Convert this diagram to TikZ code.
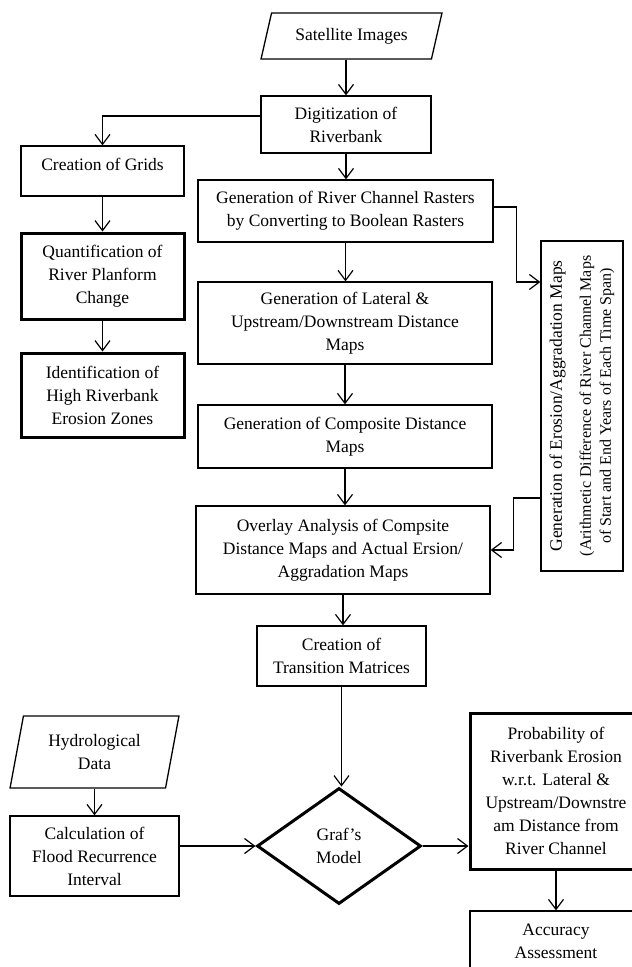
\documentclass[tikz,border=0pt]{standalone}
\usepackage{graphicx}
\usepackage{fontspec}
\setmainfont{Liberation Serif}
\usetikzlibrary{shapes.geometric,arrows.meta}

\begin{document}
\begin{tikzpicture}[x=1pt,y=-1pt,
  box/.style={draw,line width=1.3pt,align=center,inner sep=2pt,font=\fontsize{17.5}{23}\selectfont},
  boldbox/.style={box,line width=3pt},
  inbox/.style={box,trapezium,trapezium stretches=true},
  arr/.style={-{Straight Barb[length=10pt,width=15pt]},line width=1.2pt}]
\useasboundingbox (0,0) rectangle (632,967);

% main column
\node[inbox,trapezium left angle=69,trapezium right angle=111,minimum width=181pt,minimum height=46pt] (sat) at (351.5,36) {Satellite Images};
\node[box,minimum width=170pt,minimum height=57pt] (dig) at (346,124.5) {Digitization of\\Riverbank};
\node[box,minimum width=295pt,minimum height=62pt] (rast) at (345.5,211) {Generation of River Channel Rasters\\by Converting to Boolean Rasters};
\node[box,minimum width=294pt,minimum height=82pt] (lat) at (345,323) {Generation of Lateral \&\\Upstream/Downstream Distance\\Maps};
\node[box,minimum width=294pt,minimum height=63pt] (comp) at (345,436.5) {Generation of Composite Distance\\Maps};
\node[box,minimum width=294pt,minimum height=88pt] (over) at (343,550) {Overlay Analysis of Compsite\\Distance Maps and Actual Ersion/\\Aggradation Maps};
\node[box,minimum width=169pt,minimum height=60pt] (trans) at (341.5,656) {Creation of\\Transition Matrices};

% left column
\node[box,minimum width=163pt,minimum height=50pt,text depth=14pt] (grid) at (102.5,171) {Creation of Grids};
\node[boldbox,minimum width=163pt,minimum height=86pt] (quant) at (102.5,276) {Quantification of\\River Planform\\Change};
\node[boldbox,minimum width=163pt,minimum height=84pt] (ident) at (102.5,395) {Identification of\\High Riverbank\\Erosion Zones};

% right side
\node[box,minimum width=82pt,minimum height=328pt,inner sep=0pt] (eros) at (582,406) {\rotatebox{90}{\parbox{330pt}{\centering
  \fontsize{17.5}{20}\selectfont Generation of Erosion/Aggradation Maps\\[9pt]
  \fontsize{16}{20}\selectfont (Arithmetic Difference of River Channel Maps\\
  of Start and End Years of Each Time Span)}}};

% bottom part
\node[inbox,trapezium left angle=77,trapezium right angle=103,minimum width=169pt,minimum height=72pt] (hyd) at (94.5,752) {Hydrological\\Data};
\node[box,minimum width=169pt,minimum height=80pt] (calc) at (94.5,856) {Calculation of\\Flood Recurrence\\Interval};
\node[box,diamond,line width=3pt,aspect=1.41,minimum width=164pt,minimum height=116pt,inner sep=0pt] (graf) at (339,846) {Graf’s\\Model};
\node[boldbox,minimum width=172pt,minimum height=156pt] (prob) at (556,791) {Probability of\\Riverbank Erosion\\w.r.t. Lateral \&\\Upstream/Downstre\\am Distance from\\River Channel};
\node[box,minimum width=172pt,minimum height=60pt] (acc) at (556,941) {Accuracy\\Assessment};

% connectors
\draw[arr] (sat.south -| dig.north) -- (dig.north);
\draw[arr] ([yshift=8.5pt]dig.west) -| (grid.north);
\draw[arr] (grid.south) -- (quant.north);
\draw[arr] (quant.south) -- (ident.north);
\draw[arr] (dig.south) -- (dig.south |- rast.north);
\draw[arr] (rast.south) -- (rast.south |- lat.north);
\draw[arr] ([yshift=4pt]rast.east) -- ++(23,0) |- ([yshift=124pt]eros.west);
\draw[arr] (lat.south) -- (lat.south |- comp.north);
\draw[arr] (comp.south) -- (comp.south |- over.north);
\draw[arr] ([yshift=-92pt]eros.west) -- ++(-27,0) |- (over.east);
\draw[arr] (over.south) -- (over.south |- trans.north);
\draw[arr] (trans.south) -- (trans.south |- graf.north);
\draw[arr] (hyd.south) -- (hyd.south |- calc.north);
\draw[arr] (calc.east |- graf.west) -- (graf.west);
\draw[arr] (graf.east) -- (graf.east -| prob.west);
\draw[arr] (prob.south) -- (prob.south |- acc.north);
\end{tikzpicture}
\end{document}
